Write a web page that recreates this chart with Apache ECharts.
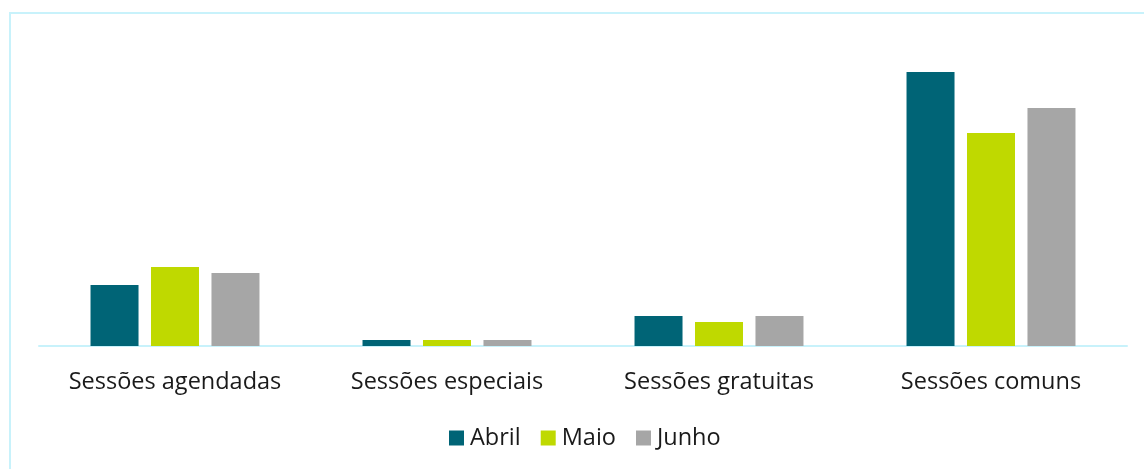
<!DOCTYPE html>
<html>
<head>
<meta charset="utf-8">
<script src="https://cdn.jsdelivr.net/npm/echarts@6/dist/echarts.min.js"></script>
<style>
  html, body { margin: 0; padding: 0; background: #fff; }
  #frame {
    position: absolute; left: 9px; top: 12px; width: 1160px; height: 480px;
    border: 2px solid #c8f2fb; box-sizing: border-box;
  }
  #chart { position: absolute; left: 0; top: 0; width: 1144px; height: 469px; }
</style>
</head>
<body>
<div id="frame"></div>
<div id="chart"></div>
<script>
const categories = ['Sessões agendadas', 'Sessões especiais', 'Sessões gratuitas', 'Sessões comuns']
const abril = [61, 6, 30, 274]
const maio = [79, 6, 24, 213]
const junho = [73, 6, 30, 238]

const colors = ['#006476', '#bfd900', '#a6a6a6']

const mChart = echarts.init(document.getElementById('chart'))

const barSeries = (name, data, color) => ({
  name: name,
  type: 'bar',
  data: data,
  barWidth: 48,
  barGap: '26%',
  itemStyle: {
    color: color
  }
})

const options = {
  animation: false,
  textStyle: { fontFamily: 'Open Sans' },
  grid: {
    top: 46,
    bottom: 123,
    left: 39,
    right: 17
  },
  legend: {
    bottom: 14,
    left: 444,
    itemWidth: 15,
    itemHeight: 15,
    itemGap: 20,
    icon: 'rect',
    textStyle: { fontSize: 23.5, color: '#1a1a1a', fontFamily: 'Open Sans', padding: [0, 0, 0, 1] }
  },
  xAxis: {
    type: 'category',
    data: categories,
    axisLine: { lineStyle: { color: '#c8f2fb', width: 2 } },
    axisTick: { show: false },
    axisLabel: {
      interval: 0,
      fontSize: 23.5,
      color: '#1a1a1a',
      margin: 24,
      fontFamily: 'Open Sans'
    }
  },
  yAxis: {
    type: 'value',
    min: 0,
    max: 300,
    show: false
  },
  series: [
    barSeries('Abril', abril, colors[0]),
    barSeries('Maio', maio, colors[1]),
    barSeries('Junho', junho, colors[2])
  ]
}
mChart.setOption(options)
</script>
</body>
</html>
